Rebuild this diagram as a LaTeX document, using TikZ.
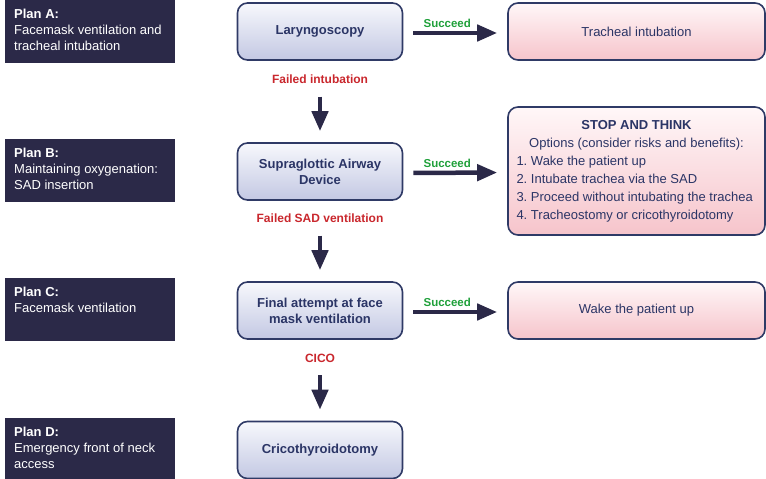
\documentclass[tikz,border=0pt]{standalone}
\usepackage{fontspec}
\setmainfont{Liberation Sans}
\usetikzlibrary{arrows.meta}
\frenchspacing
\definecolor{navy}{HTML}{2B2948}
\definecolor{edge}{HTML}{2F3A66}
\definecolor{ink}{HTML}{2B3566}
\definecolor{lavtop}{HTML}{F7F8FC}
\definecolor{lavbot}{HTML}{C3C8E3}
\definecolor{pinktop}{HTML}{FFF7F8}
\definecolor{pinkbot}{HTML}{F6C4CB}
\definecolor{okgreen}{HTML}{1FA03A}
\definecolor{failred}{HTML}{C9272D}
\begin{document}
\begin{tikzpicture}[x=1pt,y=-1pt,
    plan/.style={fill=navy,text=white,anchor=north west,inner xsep=9pt,inner ysep=9pt,
        font=\fontsize{13}{16}\selectfont},
    stage/.style={draw=edge,line width=1.6pt,rounded corners=10pt,top color=lavtop,bottom color=lavbot,
        minimum width=165pt,minimum height=57pt,align=center,text=ink,font=\bfseries\fontsize{13}{16}\selectfont},
    result/.style={draw=edge,line width=1.6pt,rounded corners=10pt,top color=pinktop,bottom color=pinkbot,
        minimum width=257pt,minimum height=57pt,align=center,text=ink,font=\fontsize{13}{16}\selectfont},
    fail/.style={text=failred,inner sep=0pt,font=\bfseries\fontsize{12}{14}\selectfont},
    ok/.style={text=okgreen,inner sep=0pt,font=\bfseries\fontsize{11.5}{14}\selectfont},
    go/.style={line width=4.5pt,draw=navy,-{Triangle[length=20pt,width=16pt]}}]
    \useasboundingbox (0,0) rectangle (766,479);
    % plans on the left
    \foreach \n/\y/\txt in {A/0/{Facemask ventilation and\\tracheal intubation},
                            B/139/{Maintaining oxygenation:\\SAD insertion},
                            C/278/{Facemask ventilation},
                            D/418/{Emergency front of neck\\access}}
        {
            \node[plan] (plan\n) at (5,\y) {\parbox[t][45pt][t]{152pt}{\textbf{Plan \n:}\\\txt}};
        }
    % steps
    \node[stage] (laryngo) at (320,31.5) {Laryngoscopy};
    \node[stage] (sad) at (320,171.5) {Supraglottic Airway\\Device};
    \node[stage] (mask) at (320,310.5) {Final attempt at face\\mask ventilation};
    \node[stage] (crico) at (320,450) {Cricothyroidotomy};
    % outcomes
    \node[result] (intub) at (636.5,31.5) {Tracheal intubation};
    \node[result,minimum height=128pt,align=left,font=\fontsize{13}{18}\selectfont] (think) at (636.5,171)
        {\makebox[240pt]{\textbf{STOP AND THINK}}\\\makebox[240pt]{Options (consider risks and benefits):}\\
         1. Wake the patient up\\2. Intubate trachea via the SAD\\
         3. Proceed without intubating the trachea\\4. Tracheostomy or cricothyroidotomy};
    \node[result] (wake) at (636.5,310.5) {Wake the patient up};
    % failures
    \node[fail] (failA) at (320,79) {Failed intubation};
    \node[fail] (failB) at (320,218) {Failed SAD ventilation};
    \node[fail] (cico) at (320,358) {CICO};
    \foreach \f/\s in {failA/sad,failB/mask,cico/crico}
        {
            \draw[go,shorten <=13pt,shorten >=11pt] (\f.south) -- (\s.north);
        }
    \foreach \a/\b in {laryngo/intub,sad/think,mask/wake}
        {
            \draw[go,shorten <=10pt,shorten >=10pt] ([yshift=-1.5pt]\a.east) -- node[ok,above=3pt,xshift=-8pt] {Succeed} ([yshift=-1.5pt]\b.west);
        }
\end{tikzpicture}
\end{document}
